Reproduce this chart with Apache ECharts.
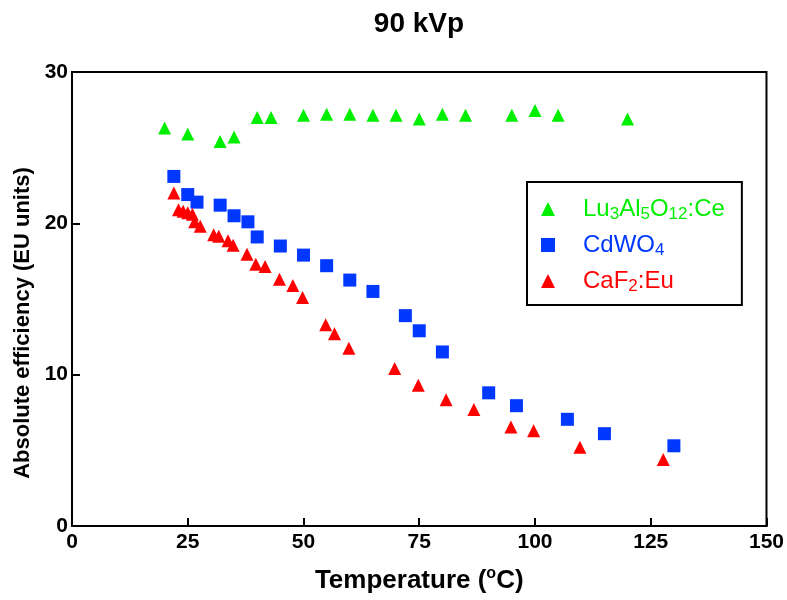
<!DOCTYPE html>
<html>
<head>
<meta charset="utf-8">
<script src="https://cdn.jsdelivr.net/npm/echarts@6/dist/echarts.min.js"></script>
<style>
  html, body { margin: 0; padding: 0; background: #fff; }
  #chart { width: 787px; height: 600px; }
</style>
</head>
<body>
<div id="chart"></div>
<script>
// Lu3Al5O12:Ce
const luagTemp = [20, 25, 32, 35, 40, 43, 50, 55, 60, 65, 70, 75, 80, 85, 95, 100, 105, 120]
const luagEff = [26.3, 25.9, 25.4, 25.7, 27.0, 27.0, 27.15, 27.2, 27.2, 27.15, 27.15, 26.9, 27.2, 27.15, 27.15, 27.45, 27.15, 26.9]

// CdWO4
const cdwoTemp = [22, 25, 27, 32, 35, 38, 40, 45, 50, 55, 60, 65, 72, 75, 80, 90, 96, 107, 115, 130]
const cdwoEff = [23.1, 21.9, 21.4, 21.2, 20.5, 20.1, 19.1, 18.5, 17.9, 17.2, 16.25, 15.5, 13.9, 12.9, 11.5, 8.8, 7.95, 7.05, 6.1, 5.3]

// CaF2:Eu
const cafTemp = [22, 23, 24, 25, 26, 26.5, 27.7, 30.6, 31.7, 33.7, 34.8, 37.8, 39.7, 41.7, 44.8, 47.7, 49.8, 54.8, 56.7, 59.8, 69.7, 74.8, 80.8, 86.8, 94.8, 99.7, 109.7, 127.7]
const cafEff = [22.0, 20.9, 20.8, 20.7, 20.6, 20.1, 19.8, 19.25, 19.15, 18.85, 18.55, 17.95, 17.3, 17.15, 16.3, 15.9, 15.1, 13.3, 12.7, 11.75, 10.4, 9.3, 8.35, 7.7, 6.55, 6.3, 5.2, 4.4]

const xTicks = [0, 25, 50, 75, 100, 125, 150]
const yTicks = [0, 10, 20, 30]

const zip = (xs, ys) => xs.map((x, i) => [x, ys[i]])

const green = '#00ee00'
const blue = '#0038ff'
const red = '#ff0000'
const font = 'Liberation Sans, Arial, sans-serif'

const legendNames = {
  luag: '{g|Lu}{gs|3}{g|Al}{gs|5}{g|O}{gs|12}{g|:Ce}',
  cdwo: '{b|CdWO}{bs|4}',
  caf: '{r|CaF}{rs|2}{r|:Eu}'
}

const mainTxt = c => ({ color: c, fontSize: 24, fontFamily: font, lineHeight: 28, verticalAlign: 'middle' })
const subTxt = c => ({ color: c, fontSize: 17, fontFamily: font, lineHeight: 17, verticalAlign: 'bottom' })

const option = {
  animation: false,
  backgroundColor: '#fff',
  title: {
    text: '90 kVp',
    left: 414,
    textAlign: 'center',
    top: 5,
    textStyle: { fontFamily: font, fontSize: 28, fontWeight: 'bold', color: '#000' }
  },
  grid: {
    left: 72,
    right: 19,
    top: 72,
    bottom: 74,
    show: true,
    borderColor: '#000',
    borderWidth: 2,
    backgroundColor: 'transparent'
  },
  legend: {
    orient: 'vertical',
    left: 527,
    top: 182,
    padding: [15, 17, 10, 14],
    itemGap: 10,
    itemWidth: 14,
    itemHeight: 14,
    borderColor: '#000',
    borderWidth: 2,
    data: ['luag', 'cdwo', 'caf'],
    formatter: name => legendNames[name],
    textStyle: {
      padding: [0, 0, 0, 23],
      rich: {
        g: mainTxt(green), gs: subTxt(green),
        b: mainTxt(blue), bs: subTxt(blue),
        r: mainTxt(red), rs: subTxt(red)
      }
    }
  },
  xAxis: {
    type: 'value',
    min: xTicks[0],
    max: xTicks[xTicks.length - 1],
    interval: 25,
    name: '{n|Temperature (}{s|o}{n|C)}',
    nameLocation: 'middle',
    nameGap: 40,
    nameTextStyle: {
      rich: {
        n: { fontFamily: font, fontSize: 26, fontWeight: 'bold', color: '#000', lineHeight: 30, verticalAlign: 'middle' },
        s: { fontFamily: font, fontSize: 16, fontWeight: 'bold', color: '#000', lineHeight: 16, verticalAlign: 'top' }
      }
    },
    splitLine: { show: false },
    axisLine: { lineStyle: { color: '#000', width: 2 } },
    axisTick: { inside: true, length: 8, lineStyle: { color: '#000', width: 2 } },
    axisLabel: { fontFamily: font, fontSize: 21, fontWeight: 'bold', color: '#000', margin: 6 }
  },
  yAxis: {
    type: 'value',
    min: yTicks[0],
    max: yTicks[yTicks.length - 1],
    interval: 10,
    name: 'Absolute efficiency (EU units)',
    nameLocation: 'middle',
    nameGap: 35,
    nameTextStyle: { fontFamily: font, fontSize: 22, fontWeight: 'bold', color: '#000', padding: [0, 48, 0, 0] },
    splitLine: { show: false },
    axisLine: { lineStyle: { color: '#000', width: 2 } },
    axisTick: { inside: true, length: 8, lineStyle: { color: '#000', width: 2 } },
    axisLabel: { fontFamily: font, fontSize: 21, fontWeight: 'bold', color: '#000', margin: 4 }
  },
  series: [
    {
      name: 'luag',
      type: 'scatter',
      symbol: 'triangle',
      symbolSize: 13,
      itemStyle: { color: green, opacity: 1 },
      data: zip(luagTemp, luagEff)
    },
    {
      name: 'cdwo',
      type: 'scatter',
      symbol: 'rect',
      symbolSize: 13,
      itemStyle: { color: blue, opacity: 1 },
      data: zip(cdwoTemp, cdwoEff)
    },
    {
      name: 'caf',
      type: 'scatter',
      symbol: 'triangle',
      symbolSize: 13,
      itemStyle: { color: red, opacity: 1 },
      data: zip(cafTemp, cafEff)
    }
  ]
}

const chart = echarts.init(document.getElementById('chart'))
chart.setOption(option)
</script>
</body>
</html>
